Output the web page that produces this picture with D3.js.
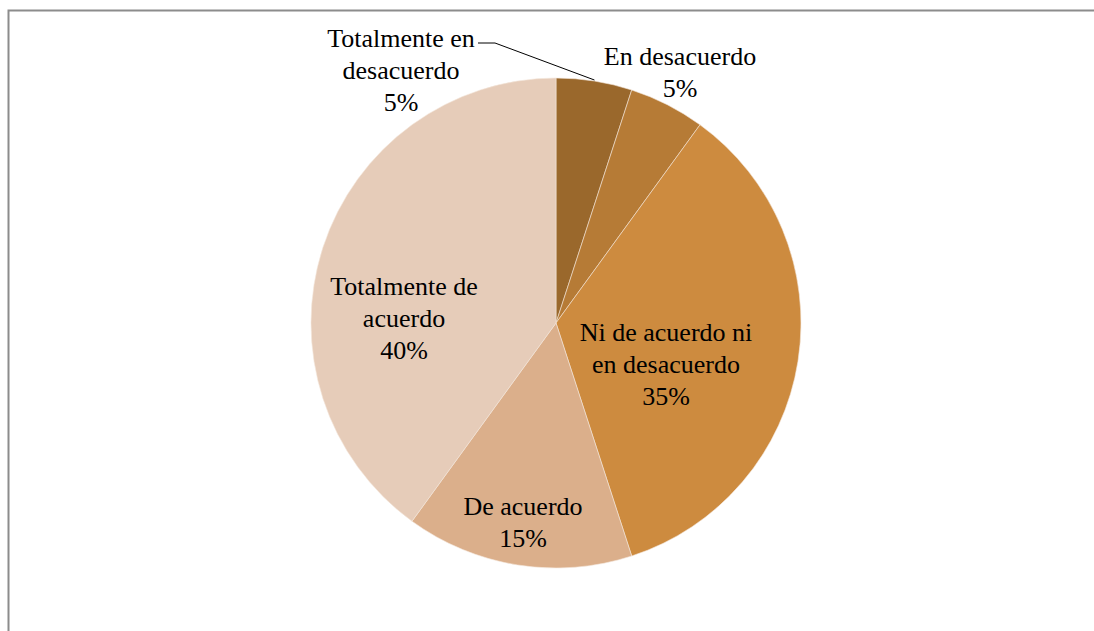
<!DOCTYPE html>
<html><head><meta charset="utf-8">
<script src="https://cdn.jsdelivr.net/npm/d3@7"></script>
<style>html,body{margin:0;padding:0;background:#fff;}svg{display:block;}
.lbl{font-family:"Liberation Serif","Times New Roman",Tinos,"DejaVu Serif",serif;font-size:26px;fill:#000;}</style>
</head><body>
<svg id="chart" width="1094" height="631"></svg>
<script>
const categories = ["Totalmente en desacuerdo", "En desacuerdo", "Ni de acuerdo ni en desacuerdo", "De acuerdo", "Totalmente de acuerdo"];
const values = [5, 5, 35, 15, 40];
const percentLabels = ["5%", "5%", "35%", "15%", "40%"];
const labelLines = [["Totalmente en", "desacuerdo"], ["En desacuerdo"], ["Ni de acuerdo ni", "en desacuerdo"], ["De acuerdo"], ["Totalmente de", "acuerdo"]];
const colors = ["#9A682C", "#B67B36", "#CD8B3F", "#DBAF8B", "#E6CCB9"];

const svg = d3.select("#chart");
const W = 1094, H = 631;
const cx = 556, cy = 323, R = 245;

// frame
svg.append("path").attr("d", `M8.5,${H} V10.5 H${W}`).attr("fill", "none").attr("stroke", "#8c8c8c").attr("stroke-width", 2);

const pie = d3.pie().sort(null).value(d => d);
const arcs = pie(values);
const arc = d3.arc().innerRadius(0).outerRadius(R);
const g = svg.append("g").attr("transform", `translate(${cx},${cy})`);
g.selectAll("path.slice").data(arcs).join("path").attr("class", "slice")
  .attr("d", arc).attr("fill", (d, i) => colors[i])
  .attr("stroke", "#f4e6da").attr("stroke-width", 0.6);

// label block centers relative to pie center
const labelPos = [[-155, -253], [124, -251], [110, 41], [-33, 199], [-152, -5]];
const lineH = 32;

arcs.forEach((d, i) => {
  const lines = labelLines[i].concat([percentLabels[i]]);
  const [lx, ly] = labelPos[i];
  const top = ly - (lines.length - 1) * lineH / 2;
  const t = g.append("text").attr("class", "lbl").attr("text-anchor", "middle");
  lines.forEach((ln, k) => {
    t.append("tspan").attr("x", lx).attr("y", top + k * lineH).attr("dy", "0.35em").text(ln);
  });
});

// leader line for first slice
const a0 = (arcs[0].startAngle + arcs[0].endAngle) / 2;
const ex = (R + 1) * Math.sin(a0), ey = -(R + 1) * Math.cos(a0);
g.append("polyline")
  .attr("points", `${-78},${-280} ${-61},${-280} ${ex},${ey}`)
  .attr("fill", "none").attr("stroke", "#000").attr("stroke-width", 1);
</script>
</body></html>
